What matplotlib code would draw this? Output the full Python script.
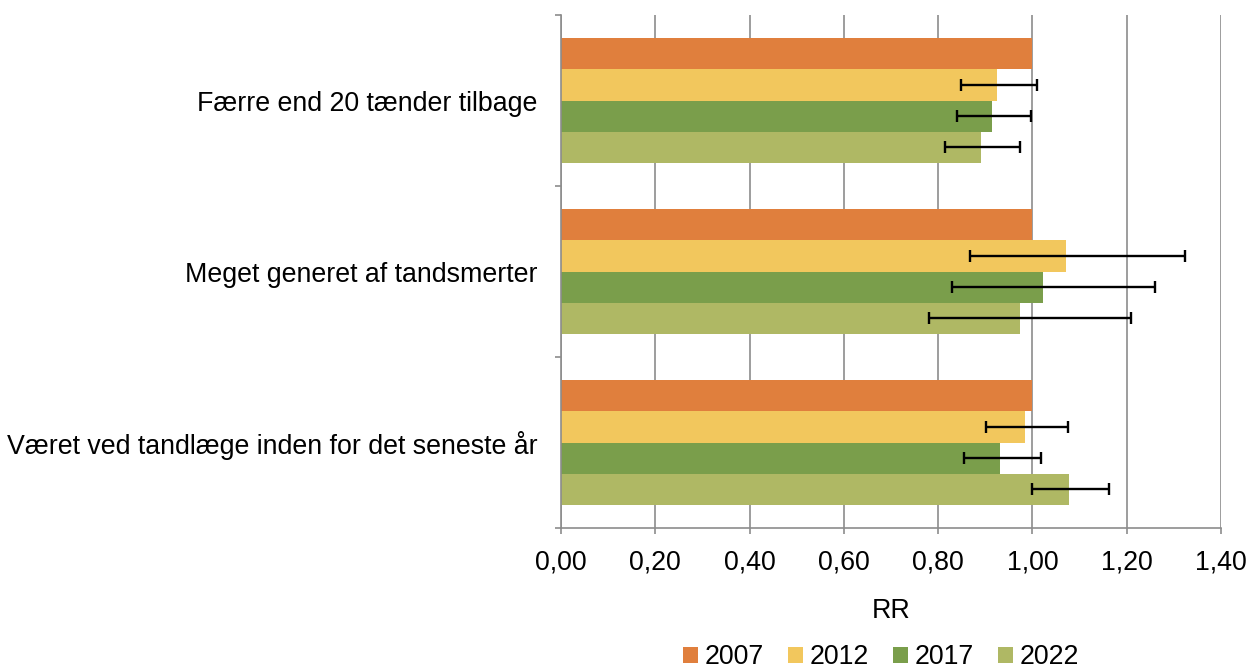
import numpy as np
import matplotlib.pyplot as plt
from matplotlib.ticker import FixedLocator, FuncFormatter

plt.rcParams['font.family'] = ['Liberation Sans', 'DejaVu Sans']

categories = ["Færre end 20 tænder tilbage",
              "Meget generet af tandsmerter",
              "Været ved tandlæge inden for det seneste år"]
years = ["2007", "2012", "2017", "2022"]

# RR med konfidensintervaller (2007 = reference)
rr_2007 = [1.00, 1.00, 1.00]
rr_2012 = [0.924, 1.072, 0.984]
low_2012 = [0.848, 0.868, 0.901]
high_2012 = [1.009, 1.323, 1.075]
rr_2017 = [0.915, 1.022, 0.932]
low_2017 = [0.839, 0.829, 0.855]
high_2017 = [0.997, 1.259, 1.018]
rr_2022 = [0.891, 0.973, 1.077]
low_2022 = [0.815, 0.780, 0.999]
high_2022 = [0.973, 1.209, 1.163]

colors = ["#E07F3D", "#F2C75D", "#7A9E4B", "#AFB864"]

values = [rr_2007, rr_2012, rr_2017, rr_2022]
lows = [None, low_2012, low_2017, low_2022]
highs = [None, high_2012, high_2017, high_2022]

fs = 19.3

fig = plt.figure(figsize=(12.56, 6.70), dpi=100)
ax = fig.add_axes([561 / 1256, 1 - 528 / 670, 660 / 1256, 513 / 670])

bar_h = 1 / 5.5
y = np.arange(len(categories))
for k, (yr, vals) in enumerate(zip(years, values)):
    pos = y + (k - 1.5) * bar_h
    ax.barh(pos, vals, height=bar_h, color=colors[k], label=yr, zorder=2)
    if lows[k] is not None:
        v = np.array(vals)
        err = [v - np.array(lows[k]), np.array(highs[k]) - v]
        ax.errorbar(vals, pos, xerr=err, fmt='none', ecolor='black',
                    elinewidth=1.7, capsize=4.5, capthick=1.7, zorder=3)

ax.set_xlim(0, 1.4)
ax.set_ylim(2.5, -0.5)
ax.set_xticks(np.arange(0, 1.41, 0.2))
ax.xaxis.set_major_formatter(FuncFormatter(lambda x, p: f"{x:.2f}".replace(".", ",")))
ax.grid(axis='x', color='#8C8C8C', linewidth=1.2, zorder=0)
ax.set_axisbelow(True)

ax.set_yticks(y)
ax.set_yticklabels(categories)
ax.yaxis.set_minor_locator(FixedLocator([-0.5, 0.5, 1.5, 2.5]))
ax.tick_params(axis='y', which='major', length=0, pad=17, labelsize=fs)
ax.tick_params(axis='y', which='minor', length=4.5, width=1.2, color='#8C8C8C')
ax.tick_params(axis='x', length=4.5, width=1.2, color='#8C8C8C', pad=11, labelsize=fs)

for s in ['top', 'right']:
    ax.spines[s].set_visible(False)
for s in ['left', 'bottom']:
    ax.spines[s].set_color('#8C8C8C')
    ax.spines[s].set_linewidth(1.2)

ax.set_xlabel("RR", fontsize=fs, labelpad=16)

ax.legend(loc='center', bbox_to_anchor=(0.485, -0.252), ncol=4, frameon=False,
          fontsize=fs, handlelength=0.55, handleheight=0.55, handletextpad=0.25,
          columnspacing=0.9)

fig.savefig("out.png", dpi=100)
